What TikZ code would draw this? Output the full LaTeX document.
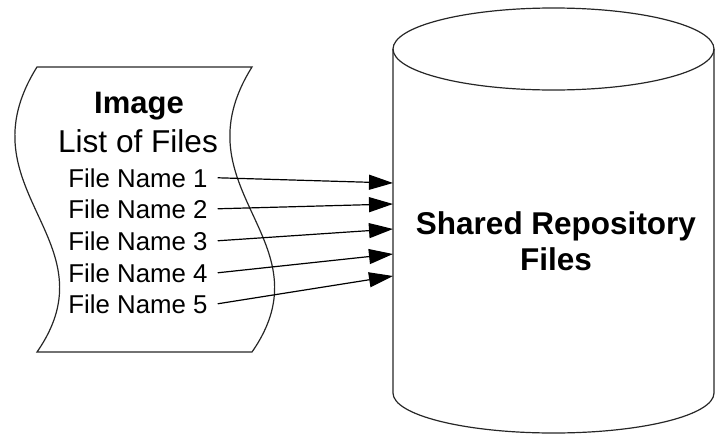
\documentclass[tikz,border=0pt]{standalone}
\usepackage{fontspec}
\setmainfont{Liberation Sans}
\usetikzlibrary{arrows.meta}

\tikzset{
  outline/.style = {line width = 1.2pt, draw = black!85},
  fname/.style = {anchor = base, inner xsep = 10pt, inner ysep = 2pt, font = \fontsize{25.8}{30}\selectfont},
  feed/.style = {line width = 1.2pt, -{Triangle[length = 24pt, width = 15pt]}},
}

\begin{document}
\begin{tikzpicture}[x = 1pt, y = -1pt]
      \useasboundingbox (0, 0) rectangle (715, 434);
      % wavy list sheet
      \draw[outline] (37, 67) -- (252, 67) .. controls (175, 190) and (330, 240) .. (252, 352)
        -- (37, 352) .. controls (115, 240) and (-40, 190) .. (37, 67) -- cycle;
      % repository cylinder
      \draw[outline] (553.5, 49) ellipse [x radius = 160.5, y radius = 41];
      \draw[outline] (393, 49) -- (393, 393) arc[start angle = 180, end angle = 0, x radius = 160.5, y radius = 40] -- (714, 49);
      \node [font = \bfseries\fontsize{31.5}{36}\selectfont, align = center, inner sep = 0pt] (repo) at (556, 241) {Shared Repository\\Files};
      \coordinate (t1) at (393, 183);
      \coordinate (t2) at (393, 204);
      \coordinate (t3) at (393, 229);
      \coordinate (t4) at (393, 254);
      \coordinate (t5) at (393, 276);
      % list texts
      \node [font = \bfseries\fontsize{31}{36}\selectfont, anchor = base] (title) at (139, 113) {Image};
      \node [font = \fontsize{31.6}{36}\selectfont, anchor = base] (list) at (138, 152) {List of Files};
      \node [fname] (f1) at (138, 187) {File Name 1};
      \node [fname] (f2) at (138, 218) {File Name 2};
      \node [fname] (f3) at (138, 250) {File Name 3};
      \node [fname] (f4) at (138, 282) {File Name 4};
      \node [fname] (f5) at (138, 313) {File Name 5};
      \draw[feed] (f1.east) -- (t1);
      \draw[feed] (f2.east) -- (t2);
      \draw[feed] (f3.east) -- (t3);
      \draw[feed] (f4.east) -- (t4);
      \draw[feed] (f5.east) -- (t5);
    \end{tikzpicture}
\end{document}
